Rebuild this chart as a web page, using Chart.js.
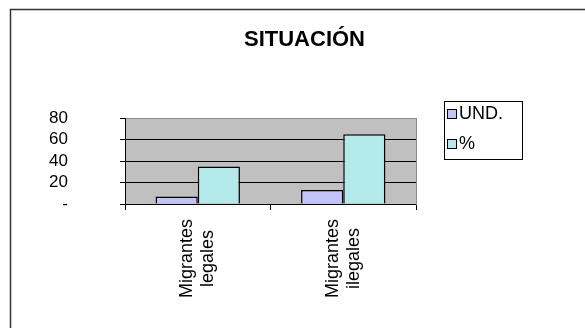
<!DOCTYPE html>
<html>
<head>
<meta charset="utf-8">
<script src="https://cdn.jsdelivr.net/npm/chart.js@4/dist/chart.umd.min.js"></script>
<style>
  html, body { margin: 0; padding: 0; background: #fff; }
  #wrap { width: 585px; height: 328px; position: relative; }
</style>
</head>
<body>
<div id="wrap"><canvas id="grafico"></canvas></div>
<script>
const categorias = [['Migrantes', 'legales'], ['Migrantes', 'ilegales']];
const und = [7, 13];
const porcentaje = [35, 65];
const marcasY = [0, 20, 40, 60, 80];

const fuente = "'Liberation Sans', Arial, sans-serif";

// marco, fondo gris del area de trazado, etiquetas del eje X y leyenda
const dibujoExtra = {
    id: 'dibujoExtra',
    beforeDraw(chart) {
        const { ctx, chartArea: a } = chart;
        ctx.save();
        ctx.fillStyle = '#fff';
        ctx.fillRect(0, 0, chart.width, chart.height);
        ctx.strokeStyle = '#333';
        ctx.lineWidth = 1.5;
        ctx.strokeRect(10.5, 9.5, chart.width + 20, chart.height + 20);
        ctx.fillStyle = '#c0c0c0';
        ctx.fillRect(a.left, a.top, a.right - a.left, a.bottom - a.top);
        ctx.restore();
    },
    afterDraw(chart) {
        const { ctx, chartArea: a } = chart;
        const x = chart.scales.x;
        ctx.save();
        ctx.fillStyle = '#000';
        ctx.font = '18px ' + fuente;
        ctx.textAlign = 'center';
        ctx.textBaseline = 'middle';
        chart.data.labels.forEach((lineas, i) => {
            const px = x.getPixelForValue(i);
            const ancho = Math.max(...lineas.map(l => ctx.measureText(l).width));
            ctx.save();
            ctx.translate(px, a.bottom + 15 + ancho / 2);
            ctx.rotate(-Math.PI / 2);
            lineas.forEach((l, j) => {
                ctx.fillText(l, 0, (j - (lineas.length - 1) / 2) * 21);
            });
            ctx.restore();
        });

        // leyenda
        ctx.strokeStyle = '#000';
        ctx.lineWidth = 1;
        ctx.strokeRect(444.5, 101.5, 78, 58);
        ctx.textAlign = 'left';
        chart.data.datasets.forEach((ds, i) => {
            const y = 109 + i * 30;
            ctx.fillStyle = ds.backgroundColor;
            ctx.fillRect(447, y, 10, 10);
            ctx.strokeRect(447.5, y + 0.5, 9, 9);
            ctx.fillStyle = '#000';
            ctx.fillText(ds.label, 459, y + 5.5);
        });
        ctx.restore();
    }
};

new Chart(document.getElementById('grafico'), {
    type: 'bar',
    data: {
        labels: categorias,
        datasets: [{
            label: 'UND.',
            data: und,
            backgroundColor: '#c3c3fa',
            borderColor: '#000',
            borderWidth: 1.5
        }, {
            label: '%',
            data: porcentaje,
            backgroundColor: '#b4eaea',
            borderColor: '#000',
            borderWidth: 1.5
        }]
    },
    options: {
        responsive: true,
        maintainAspectRatio: false,
        animation: false,
        layout: { padding: { left: 24, right: 0, top: 0, bottom: 0 } },
        datasets: { bar: { categoryPercentage: 0.58, barPercentage: 1 } },
        scales: {
            x: {
                grid: {
                    offset: true,
                    drawOnChartArea: false,
                    tickLength: 6,
                    tickColor: '#000'
                },
                border: { color: '#000', width: 1 },
                ticks: { display: false },
                afterFit(s) { s.height = 124; }
            },
            y: {
                min: 0,
                max: 80,
                afterBuildTicks(s) { s.ticks = marcasY.map(v => ({ value: v })); },
                grid: {
                    color: ctx => ctx.tick && ctx.tick.value === 80 ? '#8a8a8a' : '#000',
                    tickColor: '#000',
                    tickLength: 5,
                    lineWidth: 1
                },
                border: { color: '#000', width: 1 },
                ticks: {
                    color: '#000',
                    autoSkip: false,
                    padding: 52,
                    font: { family: fuente, size: 17 },
                    callback: v => v === 0 ? '-' : v
                },
                afterFit(s) { s.width = 101; }
            },
            derecha: {
                type: 'linear',
                position: 'right',
                grid: { display: false },
                ticks: { display: false },
                border: { color: '#8a8a8a', width: 1 },
                afterFit(s) { s.width = 169; }
            }
        },
        plugins: {
            legend: { display: false },
            tooltip: { enabled: false },
            title: {
                display: true,
                text: 'SITUACIÓN',
                color: '#000',
                font: { family: fuente, size: 22, weight: 'bold' },
                padding: { top: 27, bottom: 64.6 }
            }
        }
    },
    plugins: [dibujoExtra]
});
</script>
</body>
</html>
